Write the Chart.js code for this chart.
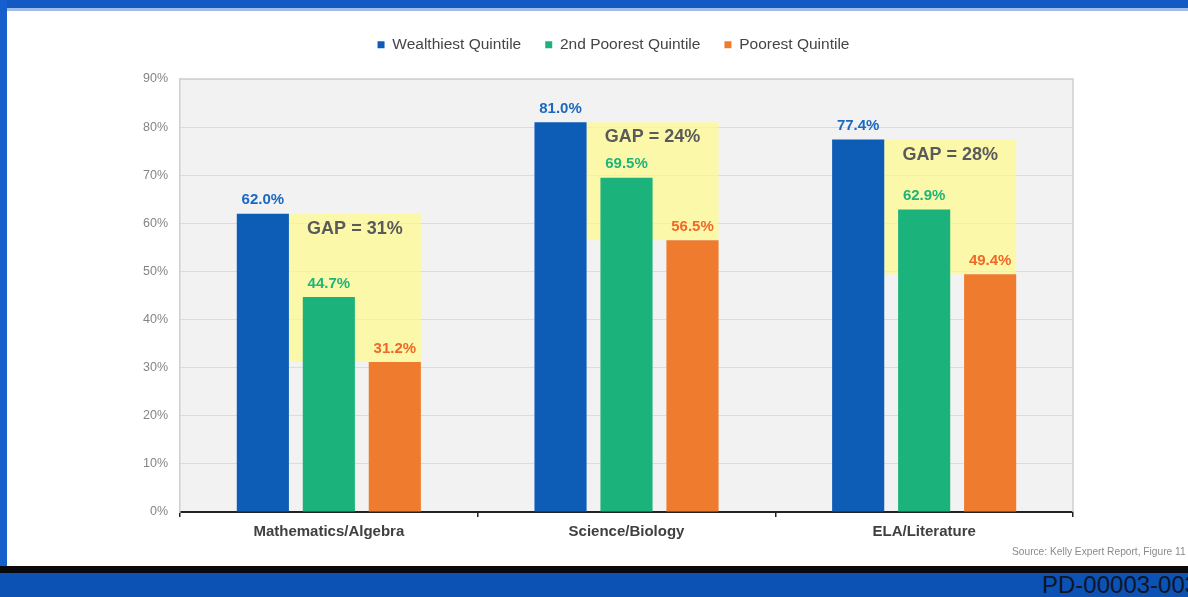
<!DOCTYPE html>
<html><head><meta charset="utf-8">
<script src="https://cdn.jsdelivr.net/npm/chart.js@4"></script>
<style>
html,body{margin:0;padding:0;}
body{width:1188px;height:597px;position:relative;overflow:hidden;background:#fff;font-family:'Liberation Sans',Arial,sans-serif;}
#top{position:absolute;left:0;top:0;width:1188px;height:8px;background:#1259c3;}
#top2{position:absolute;left:0;top:8px;width:1188px;height:3px;background:#9fbde6;}
#left{position:absolute;left:0;top:0;width:7px;height:597px;background:#1560cc;}
#blk{position:absolute;left:0;top:566px;width:1188px;height:7px;background:#0a0a0a;}
#bot{position:absolute;left:0;top:573px;width:1188px;height:24px;background:#0c52b4;}
#pd{position:absolute;left:1042px;top:572px;font-size:24px;line-height:26px;color:#0f1626;white-space:nowrap;}
#src{position:absolute;left:1012px;top:546px;font-size:10.2px;color:#8a8a8a;white-space:nowrap;}
#wrap{position:absolute;left:0;top:0;width:1188px;height:566px;}
</style>
</head><body>
<div id="top"></div><div id="top2"></div><div id="left"></div>
<div id="wrap"><canvas id="c"></canvas></div>
<div id="src">Source: Kelly Expert Report, Figure 11</div>
<div id="blk"></div><div id="bot"></div>
<div id="pd">PD-00003-003</div>
<script>
const categories = ['Mathematics/Algebra', 'Science/Biology', 'ELA/Literature'];
const seriesNames = ['Wealthiest Quintile', '2nd Poorest Quintile', 'Poorest Quintile'];
const wealthiest = [62.0, 81.0, 77.4];
const secondPoorest = [44.7, 69.5, 62.9];
const poorest = [31.2, 56.5, 49.4];
const gapValues = [31, 24, 28];
const yTickValues = [0, 10, 20, 30, 40, 50, 60, 70, 80, 90];

const barColors = ['#0d5cb6', '#1bb37b', '#ef7b2e'];
const labelColors = ['#1a68c0', '#1fb47a', '#f0682a'];
const FONT = '"Liberation Sans", Arial, sans-serif';

const decor = {
  id: 'decor',
  afterInit(chart) {
    const lg = chart.legend;
    if (lg && !lg._wrapped) {
      const origFit = lg.fit;
      lg.fit = function () { origFit.call(this); this.height += 16.5; };
      const origDraw = lg.draw;
      lg.draw = function () {
        const c = this.ctx; c.save(); c.translate(-13, 0);
        origDraw.apply(this, arguments);
        c.restore();
      };
      lg._wrapped = true;
    }
  },
  beforeDraw(chart) {
    const {ctx, chartArea: a} = chart;
    ctx.save();
    ctx.fillStyle = '#f2f2f2';
    ctx.fillRect(a.left, a.top, a.right - a.left, a.bottom - a.top);
    ctx.restore();
  },
  beforeDatasetsDraw(chart) {
    const {ctx, chartArea: a, scales: {y}} = chart;
    const m0 = chart.getDatasetMeta(0), m2 = chart.getDatasetMeta(2);
    ctx.save();
    ctx.fillStyle = 'rgba(255,252,136,0.69)';
    for (let i = 0; i < categories.length; i++) {
      const b0 = m0.data[i], b2 = m2.data[i];
      const x1 = b0.x + b0.width / 2, x2 = b2.x + b2.width / 2;
      const yt = y.getPixelForValue(wealthiest[i]), yb = y.getPixelForValue(poorest[i]);
      ctx.fillRect(x1, yt, x2 - x1, yb - yt);
    }
    ctx.strokeStyle = '#cfcfcf';
    ctx.lineWidth = 1.5;
    ctx.beginPath();
    ctx.moveTo(a.left, a.top); ctx.lineTo(a.right, a.top); ctx.lineTo(a.right, a.bottom);
    ctx.stroke();
    ctx.restore();
  },
  afterDatasetsDraw(chart) {
    const {ctx, scales: {y}} = chart;
    const series = [wealthiest, secondPoorest, poorest];
    const m0 = chart.getDatasetMeta(0), m2 = chart.getDatasetMeta(2);
    ctx.save();
    ctx.textAlign = 'center';
    ctx.textBaseline = 'bottom';
    ctx.font = 'bold 15px ' + FONT;
    series.forEach((vals, d) => {
      const meta = chart.getDatasetMeta(d);
      ctx.fillStyle = labelColors[d];
      meta.data.forEach((el, i) => {
        ctx.fillText(vals[i].toFixed(1) + '%', el.x, el.y - 6);
      });
    });
    ctx.font = 'bold 18px ' + FONT;
    ctx.fillStyle = '#5a5a5a';
    ctx.textBaseline = 'middle';
    for (let i = 0; i < categories.length; i++) {
      const b0 = m0.data[i], b2 = m2.data[i];
      const cx = (b0.x + b0.width / 2 + b2.x + b2.width / 2) / 2;
      const yt = y.getPixelForValue(wealthiest[i]);
      ctx.fillText('GAP = ' + gapValues[i] + '%', cx, yt + 15);
    }
    ctx.restore();
  }
};

new Chart(document.getElementById('c'), {
  type: 'bar',
  data: {
    labels: categories,
    datasets: [
      {label: seriesNames[0], data: wealthiest, backgroundColor: barColors[0]},
      {label: seriesNames[1], data: secondPoorest, backgroundColor: barColors[1]},
      {label: seriesNames[2], data: poorest, backgroundColor: barColors[2]}
    ]
  },
  options: {
    responsive: true,
    maintainAspectRatio: false,
    animation: false,
    devicePixelRatio: 1,
    categoryPercentage: 0.665,
    barPercentage: 0.79,
    layout: {padding: {top: 13, left: 0, right: 115, bottom: 0}},
    plugins: {
      legend: {
        position: 'top',
        fullSize: false,
        labels: {
          boxWidth: 7, boxHeight: 7, padding: 24,
          color: '#454545',
          font: {family: FONT, size: 15.5}
        }
      },
      tooltip: {enabled: false}
    },
    scales: {
      x: {
        grid: {display: true, drawOnChartArea: false, drawTicks: true, tickLength: 5, color: '#222', lineWidth: 1.5, offset: true},
        border: {display: true, color: '#222', width: 2},
        ticks: {color: '#404040', padding: 6, font: {family: FONT, size: 15, weight: 'bold'}},
        afterFit(s) { s.height = 54; }
      },
      y: {
        min: 0, max: 90,
        afterBuildTicks(s) { s.ticks = yTickValues.map(v => ({value: v})); },
        grid: {color: '#dcdcdc', lineWidth: 1, drawTicks: false},
        border: {display: true, color: '#cfcfcf', width: 1.5},
        ticks: {color: '#858585', padding: 12, callback: v => v + '%', font: {family: FONT, size: 12.5}},
        afterFit(s) { s.width = 180; }
      }
    }
  },
  plugins: [decor]
});
</script>
</body></html>
